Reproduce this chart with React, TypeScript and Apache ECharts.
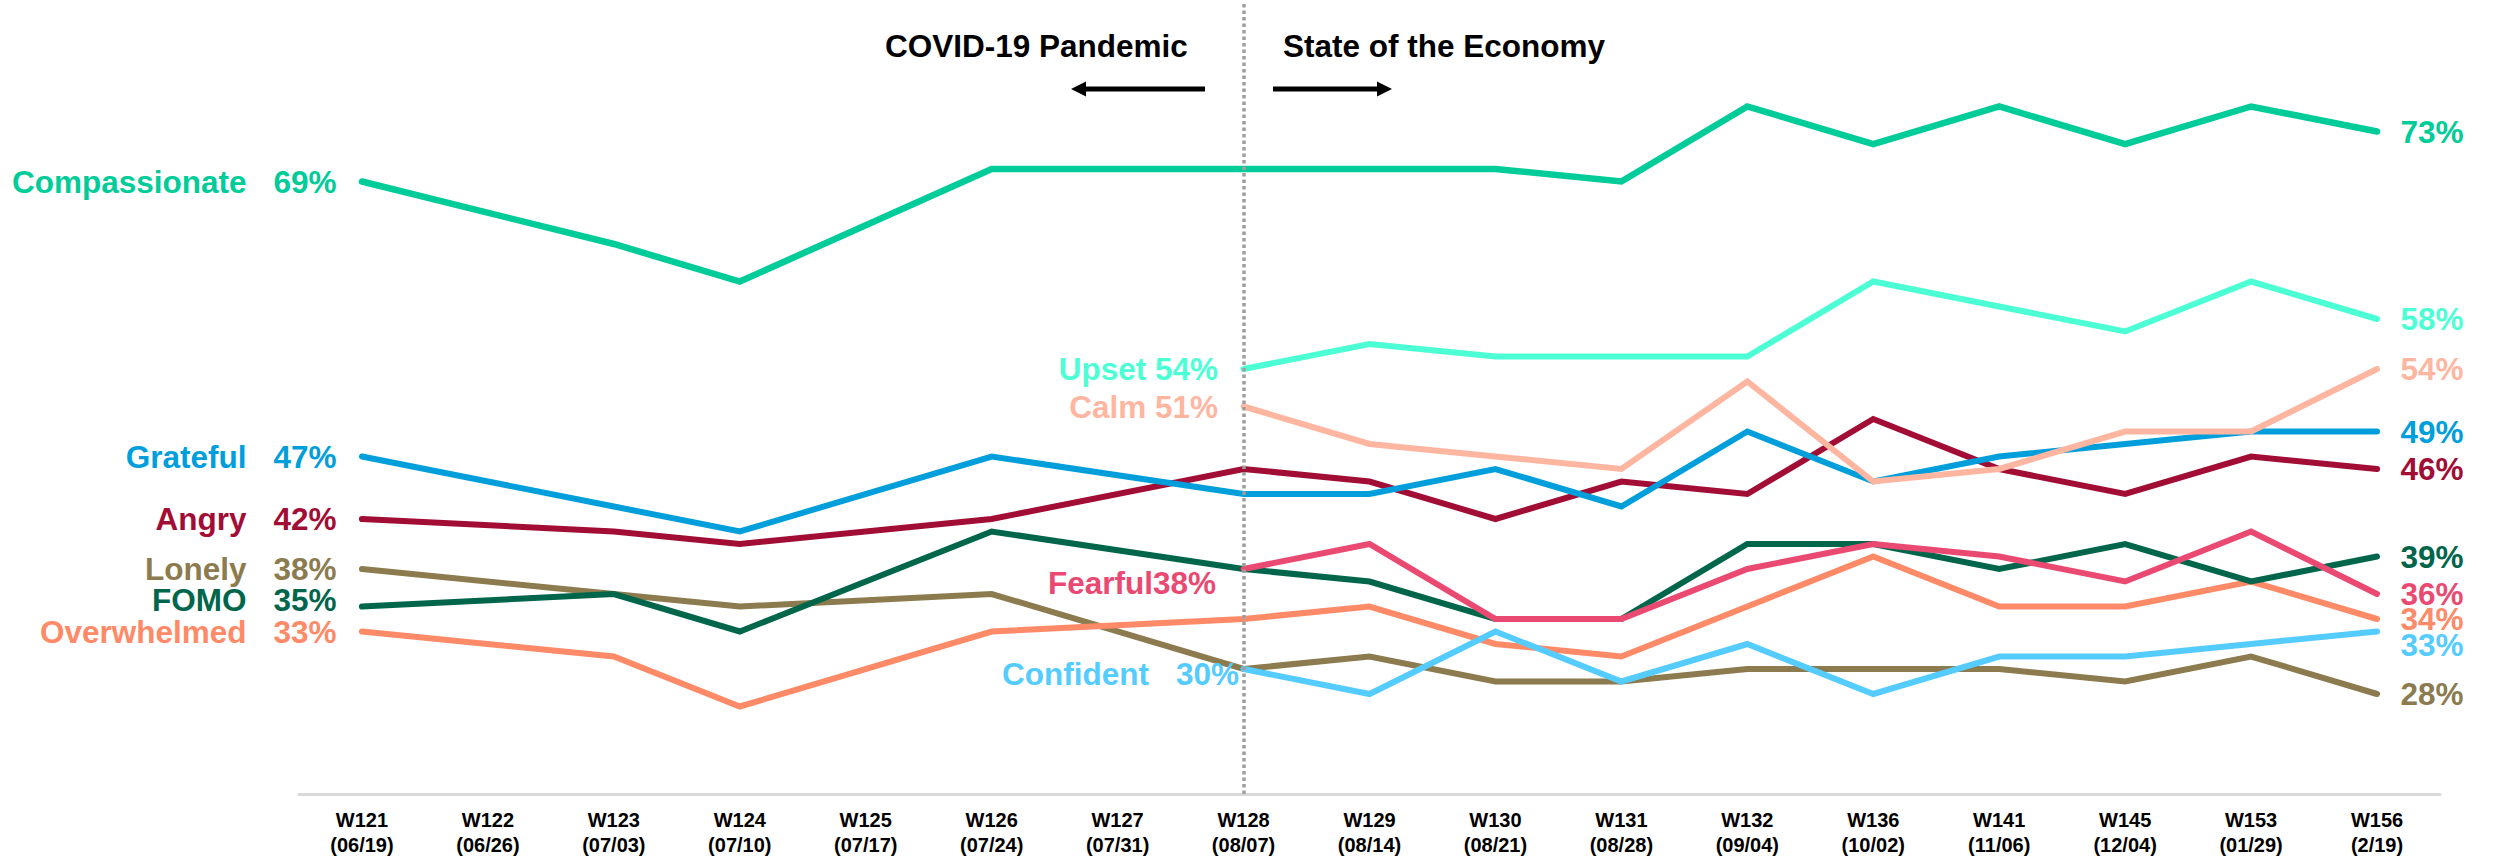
import React, { useEffect, useRef } from 'react';
import * as echarts from 'echarts';

const weeks = ['W121', 'W122', 'W123', 'W124', 'W125', 'W126', 'W127', 'W128', 'W129', 'W130', 'W131', 'W132', 'W136', 'W141', 'W145', 'W153', 'W156'];
const dates = ['(06/19)', '(06/26)', '(07/03)', '(07/10)', '(07/17)', '(07/24)', '(07/31)', '(08/07)', '(08/14)', '(08/21)', '(08/28)', '(09/04)', '(10/02)', '(11/06)', '(12/04)', '(01/29)', '(2/19)'];

const compassionate = [69, null, 64, 61, null, 70, null, 70, 70, 70, 69, 75, 72, 75, 72, 75, 73];
const grateful = [47, null, 43, 41, null, 47, null, 44, 44, 46, 43, 49, 45, 47, 48, 49, 49];
const angry = [42, null, 41, 40, null, 42, null, 46, 45, 42, 45, 44, 50, 46, 44, 47, 46];
const lonely = [38, null, 36, 35, null, 36, null, 30, 31, 29, 29, 30, 30, 30, 29, 31, 28];
const fomo = [35, null, 36, 33, null, 41, null, 38, 37, 34, 34, 40, 40, 38, 40, 37, 39];
const overwhelmed = [33, null, 31, 27, null, 33, null, 34, 35, 32, 31, 35, 39, 35, 35, 37, 34];
const upset = [null, null, null, null, null, null, null, 54, 56, 55, 55, 55, 61, 59, 57, 61, 58];
const calm = [null, null, null, null, null, null, null, 51, 48, 47, 46, 53, 45, 46, 49, 49, 54];
const fearful = [null, null, null, null, null, null, null, 38, 40, 34, 34, 38, 40, 39, 37, 41, 36];
const confident = [null, null, null, null, null, null, null, 30, 28, 33, 29, 32, 28, 31, 31, 32, 33];

const FONT = '"Liberation Sans", Arial, sans-serif';
const LABEL_SIZE = 31.5;

type Cfg = {
  name: string;
  data: (number | null)[];
  color: string;
  width: number;
  sep: 'gap' | 'space' | 'none';
  startDistance: number;
  startOffset: number[];
  endOffset: number[];
};

const configs: Cfg[] = [
  { name: 'Lonely', data: lonely, color: '#8B7B4E', width: 6, sep: 'gap', startDistance: 25, startOffset: [0, 0], endOffset: [0, 0] },
  { name: 'Overwhelmed', data: overwhelmed, color: '#FF8A68', width: 6, sep: 'gap', startDistance: 25, startOffset: [0, 0], endOffset: [0, 0] },
  { name: 'Confident', data: confident, color: '#55CCFF', width: 6, sep: 'gap', startDistance: 4, startOffset: [0, 5], endOffset: [0, 13] },
  { name: 'FOMO', data: fomo, color: '#00664B', width: 6, sep: 'gap', startDistance: 25, startOffset: [0, -7], endOffset: [0, 0] },
  { name: 'Fearful', data: fearful, color: '#EA4A72', width: 6, sep: 'none', startDistance: 27, startOffset: [0, 14], endOffset: [0, 0] },
  { name: 'Angry', data: angry, color: '#A20D35', width: 6, sep: 'gap', startDistance: 25, startOffset: [0, 0], endOffset: [0, 0] },
  { name: 'Grateful', data: grateful, color: '#009FDC', width: 6, sep: 'gap', startDistance: 25, startOffset: [0, 0], endOffset: [0, 0] },
  { name: 'Calm', data: calm, color: '#FFB6A1', width: 6, sep: 'space', startDistance: 25, startOffset: [0, 0], endOffset: [0, 0] },
  { name: 'Upset', data: upset, color: '#4DFFD4', width: 6, sep: 'space', startDistance: 25, startOffset: [0, 0], endOffset: [0, 0] },
  { name: 'Compassionate', data: compassionate, color: '#00CC99', width: 6.5, sep: 'gap', startDistance: 25, startOffset: [0, 0], endOffset: [0, 0] },
];

function buildSeries(c: Cfg) {
  const first = c.data.findIndex((v) => v != null);
  let last = c.data.length - 1;
  while (last > 0 && c.data[last] == null) last--;
  const baseLabel = {
    show: true,
    color: c.color,
    fontFamily: FONT,
    fontWeight: 'bold',
    fontSize: LABEL_SIZE,
  };
  const data = c.data.map((v, i) => {
    if (v == null) return '-';
    if (i === first) {
      let formatter: string;
      if (c.sep === 'gap') formatter = `{n|${c.name}}{v|${v}%}`;
      else if (c.sep === 'space') formatter = `${c.name} ${v}%`;
      else formatter = `${c.name}${v}%`;
      return {
        value: v,
        label: {
          ...baseLabel,
          position: 'left',
          distance: c.startDistance,
          offset: c.startOffset,
          formatter,
          rich: {
            n: { color: c.color, fontFamily: FONT, fontWeight: 'bold', fontSize: LABEL_SIZE },
            v: { color: c.color, fontFamily: FONT, fontWeight: 'bold', fontSize: LABEL_SIZE, width: 90, align: 'right' },
          },
        },
      };
    }
    if (i === last) {
      return {
        value: v,
        label: {
          ...baseLabel,
          position: 'right',
          distance: 23,
          offset: c.endOffset,
          formatter: `${v}%`,
        },
      };
    }
    return v;
  });
  return {
    type: 'line',
    name: c.name,
    data,
    connectNulls: true,
    showSymbol: true,
    symbol: 'circle',
    symbolSize: 1,
    itemStyle: { color: 'rgba(0,0,0,0)' },
    lineStyle: { color: c.color, width: c.width, cap: 'round', join: 'miter' },
    label: { show: false },
    emphasis: { disabled: true },
    silent: true,
  };
}

export default function App() {
  const ref = useRef<HTMLDivElement>(null);
  useEffect(() => {
    if (!ref.current) return;
    const chart = echarts.init(ref.current, undefined, { renderer: 'svg' });
    const series: any[] = configs.map(buildSeries);
    series.push({
      type: 'line',
      name: 'divider',
      data: [],
      silent: true,
      z: 1,
      markLine: {
        silent: true,
        symbol: ['none', 'none'],
        label: { show: false },
        lineStyle: { color: '#9E9E9E', width: 3.5, type: [3.5, 3] },
        data: [{ xAxis: 7 }],
      },
    });
    chart.setOption({
      animation: false,
      backgroundColor: '#ffffff',
      grid: { left: 299, right: 56, top: 4, bottom: 71, containLabel: false },
      xAxis: {
        type: 'category',
        data: weeks.map((w, i) => `${w}\n${dates[i]}`),
        boundaryGap: true,
        axisLine: { show: true, lineStyle: { color: '#D9D9D9', width: 3 } },
        axisTick: { show: false },
        axisLabel: {
          color: '#000000',
          fontFamily: FONT,
          fontWeight: 'bold',
          fontSize: 20,
          lineHeight: 25,
          margin: 13,
          interval: 0,
        },
        splitLine: { show: false },
      },
      yAxis: {
        type: 'value',
        min: 20,
        max: 83.2,
        show: false,
        splitLine: { show: false },
      },
      graphic: [
        {
          type: 'text',
          silent: true,
          style: {
            text: 'COVID-19 Pandemic',
            x: 885,
            y: 46,
            textAlign: 'left',
            textVerticalAlign: 'middle',
            fill: '#000000',
            font: `bold ${LABEL_SIZE}px ${FONT}`,
          },
        },
        {
          type: 'text',
          silent: true,
          style: {
            text: 'State of the Economy',
            x: 1283,
            y: 46,
            textAlign: 'left',
            textVerticalAlign: 'middle',
            fill: '#000000',
            font: `bold ${LABEL_SIZE}px ${FONT}`,
          },
        },
        {
          type: 'line',
          silent: true,
          shape: { x1: 1205, y1: 89, x2: 1082, y2: 89 },
          style: { stroke: '#000000', lineWidth: 5 },
        },
        {
          type: 'polygon',
          silent: true,
          shape: { points: [[1071, 89], [1086, 81.5], [1086, 96.5]] },
          style: { fill: '#000000' },
        },
        {
          type: 'line',
          silent: true,
          shape: { x1: 1273, y1: 89, x2: 1380, y2: 89 },
          style: { stroke: '#000000', lineWidth: 5 },
        },
        {
          type: 'polygon',
          silent: true,
          shape: { points: [[1392, 89], [1377, 81.5], [1377, 96.5]] },
          style: { fill: '#000000' },
        },
      ],
      series,
    });
    return () => chart.dispose();
  }, []);
  return (
    <div
      ref={ref}
      style={{ position: 'absolute', left: 0, top: 0, width: '2496px', height: '865px', background: '#fff' }}
    />
  );
}
